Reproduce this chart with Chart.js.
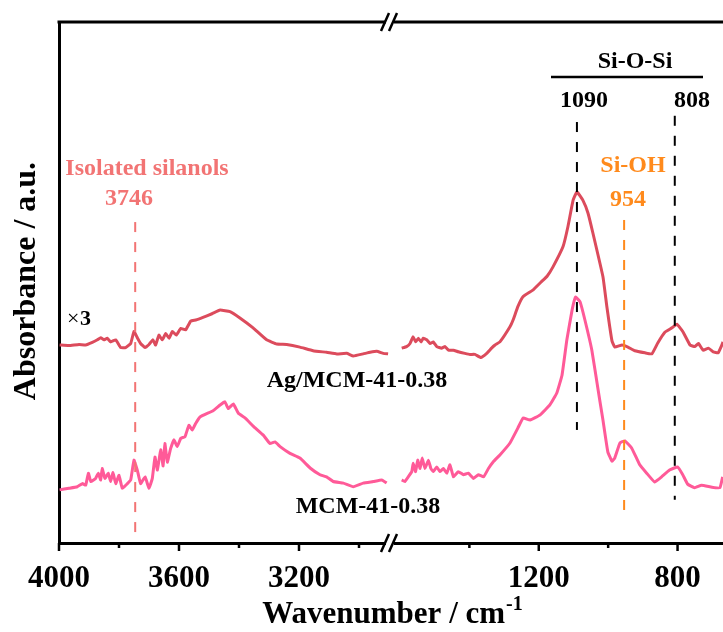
<!DOCTYPE html>
<html>
<head>
<meta charset="utf-8">
<script src="https://cdn.jsdelivr.net/npm/chart.js@4.4.1/dist/chart.umd.min.js"></script>
<style>
  body { margin: 0; background: #fff; }
  canvas { display: block; }
</style>
</head>
<body>
<canvas id="ftirChart" width="723" height="632"></canvas>
<script>
// wavenumber (cm-1) / absorbance (a.u.)
const agHighWn = [3998, 3967, 3933, 3911, 3889, 3872, 3861, 3850, 3839, 3828, 3811, 3794, 3778, 3761, 3750, 3739, 3728, 3713, 3700, 3687, 3678, 3667, 3656, 3644, 3633, 3622, 3609, 3594, 3578, 3561, 3544, 3520, 3490, 3463, 3430, 3397, 3353, 3308, 3274, 3241, 3197, 3153, 3108, 3074, 3041, 3019, 2986, 2963, 2941, 2919, 2903];
const agHighAbs = [38.0, 37.9, 38.1, 38.0, 38.5, 39.0, 39.4, 39.0, 39.3, 38.6, 39.0, 37.5, 37.5, 38.3, 40.6, 39.4, 38.3, 37.5, 38.1, 39.0, 38.0, 39.9, 39.0, 40.2, 39.3, 40.6, 39.9, 41.2, 40.9, 42.6, 42.8, 43.3, 44.0, 44.7, 44.4, 43.2, 41.3, 39.0, 38.2, 38.1, 37.6, 36.9, 36.6, 36.3, 36.4, 35.9, 36.3, 36.6, 36.8, 36.4, 36.3];

const agLowWn = [1595, 1581, 1571, 1562, 1555, 1547, 1539, 1533, 1523, 1513, 1504, 1494, 1480, 1470, 1460, 1446, 1432, 1413, 1398, 1384, 1367, 1350, 1336, 1326, 1312, 1283, 1274, 1260, 1245, 1216, 1190, 1176, 1159, 1130, 1116, 1101, 1090, 1073, 1058, 1044, 1015, 1004, 989, 981, 960, 943, 923, 894, 874, 857, 836, 816, 802, 785, 764, 750, 740, 726, 711, 697, 683, 673, 669];
const agLowAbs = [37.4, 37.7, 38.3, 39.6, 38.6, 39.3, 38.6, 39.3, 39.0, 38.3, 38.6, 37.7, 37.4, 37.7, 37.0, 37.0, 36.7, 36.4, 36.2, 36.2, 35.6, 36.4, 37.4, 38.0, 38.6, 41.5, 42.8, 45.4, 47.3, 48.6, 50.3, 51.2, 53.0, 56.9, 60.7, 65.8, 67.4, 65.8, 63.3, 59.5, 51.1, 45.5, 38.8, 37.6, 38.0, 37.6, 36.9, 36.5, 36.3, 38.4, 40.5, 41.3, 42.0, 40.6, 38.0, 37.7, 38.3, 37.0, 37.4, 36.7, 36.5, 37.9, 38.6];

const mcmHighWn = [3998, 3967, 3939, 3922, 3911, 3902, 3894, 3878, 3869, 3861, 3856, 3847, 3836, 3828, 3820, 3811, 3800, 3789, 3772, 3761, 3750, 3739, 3728, 3713, 3700, 3689, 3680, 3672, 3661, 3653, 3647, 3639, 3628, 3617, 3606, 3594, 3580, 3567, 3556, 3544, 3530, 3486, 3463, 3447, 3436, 3419, 3402, 3380, 3352, 3319, 3297, 3280, 3263, 3230, 3197, 3163, 3130, 3108, 3086, 3052, 3019, 2986, 2952, 2924, 2908];
const mcmHighAbs = [10.2, 10.5, 10.8, 11.4, 11.1, 13.4, 11.8, 12.4, 13.4, 12.1, 14.3, 12.4, 13.4, 11.8, 13.5, 11.4, 13.0, 10.5, 11.4, 12.1, 15.9, 14.0, 11.4, 12.7, 10.5, 12.4, 16.5, 14.0, 17.9, 14.8, 19.1, 15.5, 18.1, 19.8, 18.5, 20.1, 20.4, 22.6, 21.7, 23.0, 24.2, 25.4, 26.5, 27.1, 25.8, 26.7, 24.9, 24.0, 22.4, 20.7, 19.1, 19.4, 18.5, 17.2, 16.3, 14.4, 13.1, 12.7, 11.8, 11.5, 10.8, 11.5, 11.8, 12.1, 11.5];

const mcmLowWn = [1595, 1586, 1576, 1566, 1562, 1555, 1549, 1542, 1536, 1528, 1518, 1511, 1504, 1494, 1485, 1475, 1465, 1456, 1446, 1432, 1417, 1403, 1388, 1374, 1359, 1345, 1331, 1312, 1283, 1260, 1245, 1225, 1196, 1168, 1148, 1133, 1119, 1104, 1094, 1081, 1067, 1047, 1029, 1015, 1001, 989, 981, 966, 952, 932, 909, 889, 866, 846, 823, 800, 785, 771, 751, 731, 701, 678, 670];
const mcmLowAbs = [12.1, 11.8, 12.7, 13.7, 15.3, 13.7, 15.9, 14.3, 16.3, 14.3, 15.9, 14.3, 13.7, 14.6, 13.7, 14.3, 13.4, 15.0, 12.7, 13.7, 13.1, 13.4, 12.4, 13.1, 12.7, 14.3, 15.6, 16.9, 19.2, 22.1, 24.0, 23.6, 24.6, 26.5, 28.8, 32.2, 39.0, 44.7, 47.2, 46.3, 42.8, 37.0, 29.4, 23.6, 17.5, 15.7, 16.3, 19.2, 19.6, 18.2, 15.0, 13.4, 11.7, 12.7, 14.0, 14.6, 13.1, 11.3, 10.6, 11.1, 10.7, 10.6, 12.7];

const highTicks = [4000, 3800, 3600, 3400, 3200, 3000];
const lowTicks = [1400, 1200, 1000, 800];
const labelledTicks = [4000, 3600, 3200, 1200, 800];
const highRange = [2890, 4000];
const lowRange = [669, 1623];

const seriesNames = ["Ag/MCM-41-0.38", "MCM-41-0.38"];
const peakWn = [3746, 1090, 954, 808];

const agColor = "#dc4b5c";
const mcmColor = "#ff5a98";
const silanolColor = "#f27474";
const siohColor = "#ff8a1c";
const FONT = '"Liberation Serif", "Times New Roman", serif';

function toPoints(wn, abs) {
    return wn.map((x, i) => ({ x: x, y: abs[i] }));
}

function makeSet(label, wn, abs, axis, color) {
    return {
        label: label,
        data: toPoints(wn, abs),
        xAxisID: axis,
        borderColor: color,
        borderWidth: 3,
        pointRadius: 0,
        tension: 0.1,
        fill: false
    };
}

function xScale(range, ticks, weight) {
    return {
        type: "linear",
        position: "bottom",
        stack: "wn",
        stackWeight: weight,
        reverse: true,
        min: range[0],
        max: range[1],
        afterBuildTicks: s => { s.ticks = ticks.map(v => ({ value: v })); },
        afterFit: s => {
            s.height = 89;
            s.paddingLeft = 0;
            s.paddingRight = 0;
        },
        grid: { display: false, drawTicks: false },
        border: { display: true, width: 3, color: "#000" },
        ticks: {
            autoSkip: false,
            maxRotation: 0,
            padding: 17,
            color: "#000",
            font: { family: FONT, size: 31, weight: "bold" },
            callback: v => labelledTicks.includes(v) ? String(v) : ""
        }
    };
}

function text(ctx, str, x, y, color, size, align) {
    ctx.fillStyle = color;
    ctx.font = "bold " + size + "px " + FONT;
    ctx.textAlign = align || "center";
    ctx.textBaseline = "alphabetic";
    ctx.fillText(str, x, y);
}

const decorPlugin = {
    id: "decor",
    afterDatasetsDraw(chart) {
        const { ctx, scales } = chart;
        const y = scales.y;
        function vline(scale, wn, top, bottom, color) {
            const px = scale.getPixelForValue(wn);
            ctx.strokeStyle = color;
            ctx.beginPath();
            ctx.moveTo(px, y.getPixelForValue(top));
            ctx.lineTo(px, y.getPixelForValue(bottom));
            ctx.stroke();
        }
        ctx.save();
        ctx.lineWidth = 2;
        ctx.setLineDash([10, 10]);
        vline(scales.xL, peakWn[0], 61.6, 1.3, silanolColor);
        vline(scales.xR, peakWn[1], 80.8, 21.7, "#000");
        vline(scales.xR, peakWn[2], 62.0, 6.0, siohColor);
        vline(scales.xR, peakWn[3], 82.0, 8.3, "#000");
        ctx.restore();
    },
    afterDraw(chart) {
        const { ctx, chartArea, scales } = chart;
        const top = chartArea.top, bottom = chartArea.bottom;
        const brk = scales.xL.right;
        ctx.save();

        // top frame with break
        ctx.strokeStyle = "#000";
        ctx.lineWidth = 3;
        ctx.beginPath();
        ctx.moveTo(chartArea.left - 1.5, top);
        ctx.lineTo(brk - 6, top);
        ctx.moveTo(brk + 2, top);
        ctx.lineTo(chartArea.right, top);
        ctx.stroke();

        // gap in bottom axis
        ctx.fillStyle = "#fff";
        ctx.fillRect(brk - 6, bottom - 3, 8, 6);

        // break slashes
        ctx.lineWidth = 2.5;
        [top, bottom].forEach(yy => {
            ctx.beginPath();
            ctx.moveTo(brk - 11, yy + 9);
            ctx.lineTo(brk - 3, yy - 9);
            ctx.moveTo(brk - 3, yy + 9);
            ctx.lineTo(brk + 5, yy - 9);
            ctx.stroke();
        });

        // tick marks
        ctx.lineWidth = 2.5;
        [[scales.xL, highTicks], [scales.xR, lowTicks]].forEach(([s, list]) => {
            list.forEach(v => {
                const px = s.getPixelForValue(v);
                const len = labelledTicks.includes(v) ? 8 : 5;
                ctx.beginPath();
                ctx.moveTo(px, bottom);
                ctx.lineTo(px, bottom + len);
                ctx.stroke();
            });
        });

        // axis titles
        ctx.fillStyle = "#000";
        ctx.font = "bold 31px " + FONT;
        const main = "Wavenumber / cm";
        const mw = ctx.measureText(main).width;
        ctx.font = "bold 20px " + FONT;
        const sw = ctx.measureText("-1").width;
        const startX = 392 - (mw + sw) / 2;
        text(ctx, main, startX, 623, "#000", 31, "left");
        text(ctx, "-1", startX + mw + 1, 610, "#000", 20, "left");

        ctx.save();
        ctx.translate(35, 281);
        ctx.rotate(-Math.PI / 2);
        text(ctx, "Absorbance / a.u.", 0, 0, "#000", 32, "center");
        ctx.restore();

        // annotations
        text(ctx, "Isolated silanols", 147, 175, silanolColor, 24);
        text(ctx, String(peakWn[0]), 129, 205, silanolColor, 24);
        text(ctx, "Si-O-Si", 635, 68, "#000", 24);
        text(ctx, String(peakWn[1]), 584, 107, "#000", 24);
        text(ctx, String(peakWn[3]), 692, 107, "#000", 24);
        text(ctx, "Si-OH", 633, 172, siohColor, 24);
        text(ctx, String(peakWn[2]), 628, 206, siohColor, 24);
        text(ctx, seriesNames[0], 357, 387, "#000", 24);
        text(ctx, seriesNames[1], 368, 513, "#000", 24);

        ctx.lineWidth = 2.5;
        ctx.strokeStyle = "#000";
        ctx.beginPath();
        ctx.moveTo(551, 77);
        ctx.lineTo(703, 77);
        ctx.stroke();

        ctx.fillStyle = "#000";
        ctx.font = "22px " + FONT;
        ctx.textAlign = "left";
        ctx.fillText("\u00d7", 67, 325);
        text(ctx, "3", 80, 325, "#000", 22, "left");

        ctx.restore();
    }
};

const ftirChart = new Chart(document.getElementById("ftirChart"), {
    type: "line",
    data: {
        datasets: [
            makeSet(seriesNames[0], agHighWn, agHighAbs, "xL", agColor),
            makeSet(seriesNames[0], agLowWn, agLowAbs, "xR", agColor),
            makeSet(seriesNames[1], mcmHighWn, mcmHighAbs, "xL", mcmColor),
            makeSet(seriesNames[1], mcmLowWn, mcmLowAbs, "xR", mcmColor)
        ]
    },
    options: {
        responsive: false,
        animation: false,
        layout: { padding: { top: 22, right: 0, bottom: 0, left: 0 } },
        plugins: {
            legend: { display: false },
            tooltip: { enabled: false }
        },
        scales: {
            xL: xScale(highRange, highTicks, 333),
            xR: xScale(lowRange, lowTicks, 331),
            y: {
                min: 0,
                max: 100,
                afterFit: s => { s.width = 59; },
                ticks: { display: false },
                grid: { display: false, drawTicks: false },
                border: { display: true, width: 3, color: "#000" }
            }
        }
    },
    plugins: [decorPlugin]
});
</script>
</body>
</html>
